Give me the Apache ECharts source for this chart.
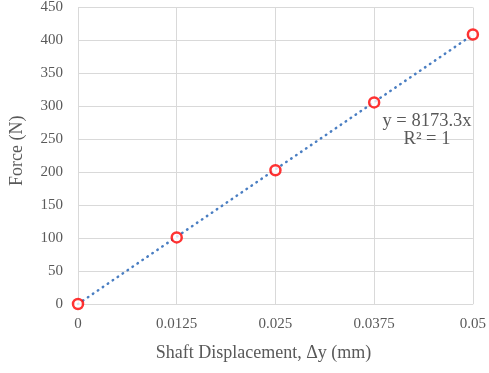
<!DOCTYPE html>
<html><head><meta charset="utf-8">
<script src="https://cdn.jsdelivr.net/npm/echarts@6/dist/echarts.min.js"></script>
<style>html,body{margin:0;padding:0;background:#fff}#c{width:489px;height:373px}</style>
</head><body><div id="c"></div>
<script>
const displacement = [0, 0.0125, 0.025, 0.0375, 0.05];
const force = [0, 101, 203, 306, 409];
const slope = 8173.3;
const xTicks = [0, 0.0125, 0.025, 0.0375, 0.05];
const yTicks = [0, 50, 100, 150, 200, 250, 300, 350, 400, 450];

const chart = echarts.init(document.getElementById('c'));
const font = 'Liberation Serif';
const grey = '#595959';
const trend = [[xTicks[0], slope * xTicks[0]], [xTicks[xTicks.length - 1], slope * xTicks[xTicks.length - 1]]];
chart.setOption({
  animation: false,
  grid: {left: 78, right: 15, top: 7, bottom: 69},
  xAxis: {
    type: 'value', min: 0, max: 0.05, interval: 0.0125,
    name: 'Shaft Displacement, \u0394y (mm)', nameLocation: 'middle', nameGap: 40,
    nameTextStyle: {fontFamily: font, fontSize: 18, color: grey, padding: [0, 24, 0, 0]},
    axisLine: {show: true, lineStyle: {color: '#d9d9d9', width: 1}},
    axisTick: {show: false},
    axisLabel: {fontFamily: font, fontSize: 15, color: grey, margin: 13,
      formatter: v => String(parseFloat(v.toFixed(4)))},
    splitLine: {show: true, lineStyle: {color: '#d9d9d9', width: 1}}
  },
  yAxis: {
    type: 'value', min: 0, max: 450, interval: 50,
    name: 'Force (N)', nameLocation: 'middle', nameGap: 52,
    nameTextStyle: {fontFamily: font, fontSize: 18, color: grey, padding: [0, 0, 0, 10]},
    axisLine: {show: true, lineStyle: {color: '#d9d9d9', width: 1}},
    axisTick: {show: false},
    axisLabel: {fontFamily: font, fontSize: 15, color: grey, margin: 15},
    splitLine: {show: true, lineStyle: {color: '#d9d9d9', width: 1}}
  },
  series: [
    {
      type: 'line', data: trend, symbol: 'none', silent: true, z: 2,
      lineStyle: {color: '#4A7EC2', width: 2.5, type: [0.5, 5.5], cap: 'round'}
    },
    {
      type: 'scatter', data: displacement.map((x, i) => [x, force[i]]),
      symbol: 'circle', symbolSize: 10, z: 3,
      itemStyle: {color: '#ffffff', borderColor: '#FF0000', borderWidth: 2.5}
    }
  ],
  graphic: [{
    type: 'text', x: 427, y: 112, z: 10,
    style: {text: 'y = 8173.3x\nR\u00b2 = 1', fontFamily: font, fontSize: 18.5, fill: grey, lineHeight: 18, align: 'center'}
  }]
});
</script></body></html>
